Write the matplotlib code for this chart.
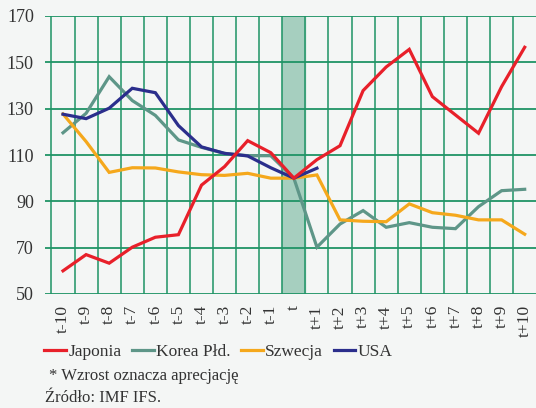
import matplotlib
matplotlib.use("Agg")
import matplotlib.pyplot as plt
import numpy as np
from matplotlib.lines import Line2D

categories = ["t-10", "t-9", "t-8", "t-7", "t-6", "t-5", "t-4", "t-3", "t-2", "t-1", "t",
              "t+1", "t+2", "t+3", "t+4", "t+5", "t+6", "t+7", "t+8", "t+9", "t+10"]
japonia = [60, 67, 63.3, 70.2, 74.5, 75.6, 97, 105, 116.2, 111, 100,
           108, 114, 137.8, 148, 155.6, 135.2, 127.3, 119.4, 139.5, 156.5]
korea = [119.6, 128, 143.8, 133.5, 127.1, 116.5, 113.3, 110.7, 109.7, 109.7, 100,
         70.2, 80.2, 86, 78.8, 80.8, 78.8, 78.2, 87.7, 94.6, 95.2]
szwecja = [127.7, 115.8, 102.5, 104.5, 104.4, 102.7, 101.5, 101.2, 102.1, 100, 100,
           101.4, 82, 81.4, 81.2, 88.9, 85.1, 84, 82, 82, 75.8]
usa = [127.6, 125.7, 130.2, 138.8, 136.9, 122.7, 113.5, 110.7, 109.6, 104.5, 100, 104.3]
yticks = [50, 70, 90, 110, 130, 150, 170]
series_names = ["Japonia", "Korea Płd.", "Szwecja", "USA"]
footnote = "* Wzrost oznacza aprecjację"
source = "Źródło: IMF IFS."

bg = "#f4f6f5"
grid_c = "#1f9466"
txt_c = "#333333"
colors = ["#e8202a", "#5e9688", "#f5a81c", "#2b2e8c"]

plt.rcParams["font.family"] = ["Liberation Serif", "DejaVu Serif"]

fig = plt.figure(figsize=(5.36, 4.08), dpi=100, facecolor=bg)
ax = fig.add_axes([45/536, 1-294/408, 1-45/536, (294-16)/408])
ax.set_facecolor(bg)
x = np.arange(len(categories))

ax.set_xlim(-0.78, 20.49)
ax.set_ylim(50, 170)

# shaded band for period t
ax.axvspan(9.5, 10.5, color="#a6cfbf", zorder=0.5)

for v in yticks:
    ax.axhline(v, color=grid_c, lw=1.3, zorder=1)
for b in np.arange(-0.5, 20.5, 1.0):
    ax.axvline(b, color=grid_c, lw=1.3, alpha=0.85, zorder=1)

lw = 2.3
ax.plot(x, korea, color=colors[1], lw=lw, zorder=3, solid_joinstyle="miter")
ax.plot(x, szwecja, color=colors[2], lw=lw, zorder=3, solid_joinstyle="miter")
ax.plot(x[:len(usa)], usa, color=colors[3], lw=lw, zorder=4, solid_joinstyle="miter")
ax.plot(x, japonia, color=colors[0], lw=lw, zorder=5, solid_joinstyle="miter")

for s in ax.spines.values():
    s.set_visible(False)
ax.set_yticks(yticks)
ax.set_yticklabels([str(v) for v in yticks], fontsize=13, color=txt_c)
ax.set_xticks(x)
ax.set_xticklabels(categories, rotation=90, fontsize=12.5, color=txt_c)
ax.tick_params(axis="both", length=0)
ax.tick_params(axis="x", pad=8)
ax.tick_params(axis="y", pad=8)

handles = [Line2D([0], [0], color=c, lw=2.3) for c in colors]
fig.legend(handles, series_names, loc="center left", bbox_to_anchor=(44/536, 1-352/408),
           ncol=4, frameon=False, fontsize=12.5, handlelength=1.25, handletextpad=0.15,
           columnspacing=0.6, borderaxespad=0, borderpad=0)
for t in fig.legends[0].get_texts():
    t.set_color(txt_c)

fig.text(49/536, 1-376/408, footnote, fontsize=12, color=txt_c, va="center")
fig.text(45/536, 1-398/408, source, fontsize=12, color=txt_c, va="center")

fig.savefig("out.png", dpi=100, facecolor=bg)
